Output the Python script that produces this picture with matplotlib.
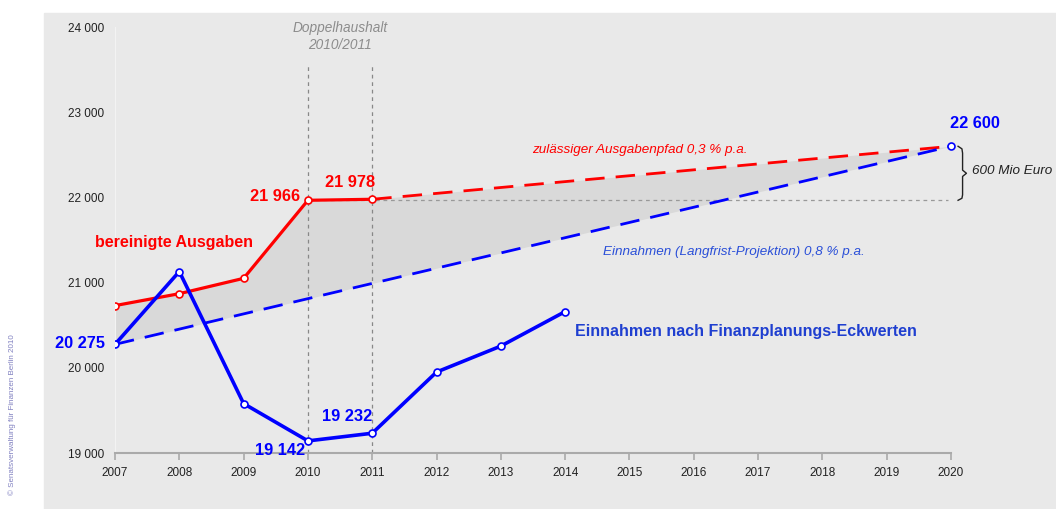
import numpy as np
import matplotlib
matplotlib.use("Agg")
import matplotlib.pyplot as plt
from matplotlib.patches import Rectangle

# --- data (Mio Euro) ---
years = list(range(2007, 2021))
ausgaben_years = [2007, 2008, 2009, 2010, 2011]
ausgaben = [20730, 20870, 21050, 21966, 21978]
pfad_years = [2011, 2020]
pfad = [21978, 22600]
eckwerte_years = [2007, 2008, 2009, 2010, 2011, 2012, 2013, 2014]
eckwerte = [20275, 21130, 19580, 19142, 19232, 19950, 20255, 20660]
langfrist_years = [2007, 2020]
langfrist = [20275, 22600]
yticks = [19000, 20000, 21000, 22000, 23000, 24000]

RED = "#ff0000"
BLUE = "#0000ff"
BOLD = 11.5
NUM = 11.8
ITAL = 9.7

plt.rcParams["font.family"] = ["Liberation Sans", "DejaVu Sans"]

fig = plt.figure(figsize=(10.56, 5.09), dpi=100)
fig.patches.append(Rectangle((44 / 1056, 0), 1, 1 - 13 / 509, transform=fig.transFigure,
                             color="#e9e9e9", zorder=-10))
ax = fig.add_axes([115 / 1056, 56 / 509, (951 - 115) / 1056, (453 - 27) / 509])
ax.set_zorder(1)
ax.set_facecolor("none")
ax.set_xlim(2007, 2020)
ax.set_ylim(19000, 24000)

# shaded gap between allowed spending path and long-term revenue
xs = np.linspace(2007, 2020, 400)
upper = np.interp(xs, ausgaben_years + pfad_years[1:], ausgaben + pfad[1:])
lower = np.interp(xs, langfrist_years, langfrist)
ax.fill_between(xs, lower, upper, color="#d9d9d9", lw=0, zorder=1)

for x in (2007, 2020):
    ax.plot([x, x], [19000, 24000], color="#f3f3f3", lw=0.8, zorder=1)

# reference lines
for x in (2010, 2011):
    ax.plot([x, x], [19000, 23540], color="#888888", lw=0.9, ls=(0, (3, 3)), zorder=2)
ax.plot([2010, 2019.95], [21966, 21966], color="#999999", lw=0.9, ls=(0, (3, 3)), zorder=2)

dash = (0, (7, 4))
ax.plot(pfad_years, pfad, color=RED, lw=2.0, ls=dash, zorder=3)
ax.plot(langfrist_years, langfrist, color=BLUE, lw=2.0, ls=dash, zorder=3)
ax.plot(ausgaben_years, ausgaben, color=RED, lw=2.3, marker="o", ms=5,
        mfc="white", mec=RED, mew=1.2, zorder=4)
ax.plot(eckwerte_years, eckwerte, color=BLUE, lw=2.6, marker="o", ms=5,
        mfc="white", mec=BLUE, mew=1.2, zorder=5)
ax.plot([2020], [22600], marker="o", ms=5, mfc="white", mec=BLUE, mew=1.2,
        zorder=5, clip_on=False)

# brace for the 600 Mio gap
bx = [2020.11, 2020.17, 2020.18, 2020.18, 2020.24, 2020.18, 2020.18, 2020.17, 2020.11]
by = [22600, 22570, 22520, 22320, 22283, 22246, 22030, 21990, 21966]
ax.plot(bx, by, color="#222222", lw=1.0, clip_on=False, zorder=5)

# axes styling
for s in ("left", "right", "top"):
    ax.spines[s].set_visible(False)
ax.spines["bottom"].set_color("#aaaaaa")
ax.spines["bottom"].set_linewidth(1.5)
ax.set_xticks(years)
ax.set_yticks(yticks)
ax.set_yticklabels([f"{v // 1000} {v % 1000:03d}" for v in yticks])
ax.tick_params(axis="y", length=0, pad=8, labelsize=8.5, labelcolor="#222222")
ax.tick_params(axis="x", length=5, width=1.2, color="#aaaaaa", pad=5,
               labelsize=8.5, labelcolor="#222222")

# annotations
ax.text(2010.5, 23890, "Doppelhaushalt\n2010/2011", color="#8c8c8c", style="italic",
        fontsize=9.8, ha="center", va="center", linespacing=1.25)
ax.text(2009.88, 22010, "21 966", color=RED, fontsize=NUM, fontweight="bold",
        ha="right", va="center")
ax.text(2010.65, 22176, "21 978", color=RED, fontsize=NUM, fontweight="bold",
        ha="center", va="center")
ax.text(2006.69, 21471, "bereinigte Ausgaben", color=RED, fontsize=BOLD,
        fontweight="bold", ha="left", va="center", clip_on=False)
ax.text(2015.16, 22553, "zulässiger Ausgabenpfad 0,3 % p.a.", color=RED,
        fontsize=ITAL, style="italic", ha="center", va="center")
ax.text(2020.37, 22870, "22 600", color=BLUE, fontsize=NUM, fontweight="bold",
        ha="center", va="center", clip_on=False)
ax.text(2020.33, 22306, "600 Mio Euro", color="#222222", fontsize=ITAL,
        style="italic", ha="left", va="center", clip_on=False)
ax.text(2014.59, 21365, "Einnahmen (Langfrist-Projektion) 0,8 % p.a.", color="#2a4fd8",
        fontsize=ITAL, style="italic", ha="left", va="center")
ax.text(2014.15, 20424, "Einnahmen nach Finanzplanungs-Eckwerten", color="#1f3fd0",
        fontsize=BOLD, fontweight="bold", ha="left", va="center")
ax.text(2006.84, 20282, "20 275", color=BLUE, fontsize=NUM, fontweight="bold",
        ha="right", va="center", clip_on=False)
ax.text(2009.95, 19024, "19 142", color=BLUE, fontsize=NUM, fontweight="bold",
        ha="right", va="center", clip_on=False)
ax.text(2010.22, 19424, "19 232", color=BLUE, fontsize=NUM, fontweight="bold",
        ha="left", va="center")

fig.text(12 / 1056, (509 - 415) / 509, "© Senatsverwaltung für Finanzen Berlin 2010",
         rotation=90, color="#8080c0", fontsize=5.8, ha="center", va="center")

fig.savefig("out.png", dpi=100)
